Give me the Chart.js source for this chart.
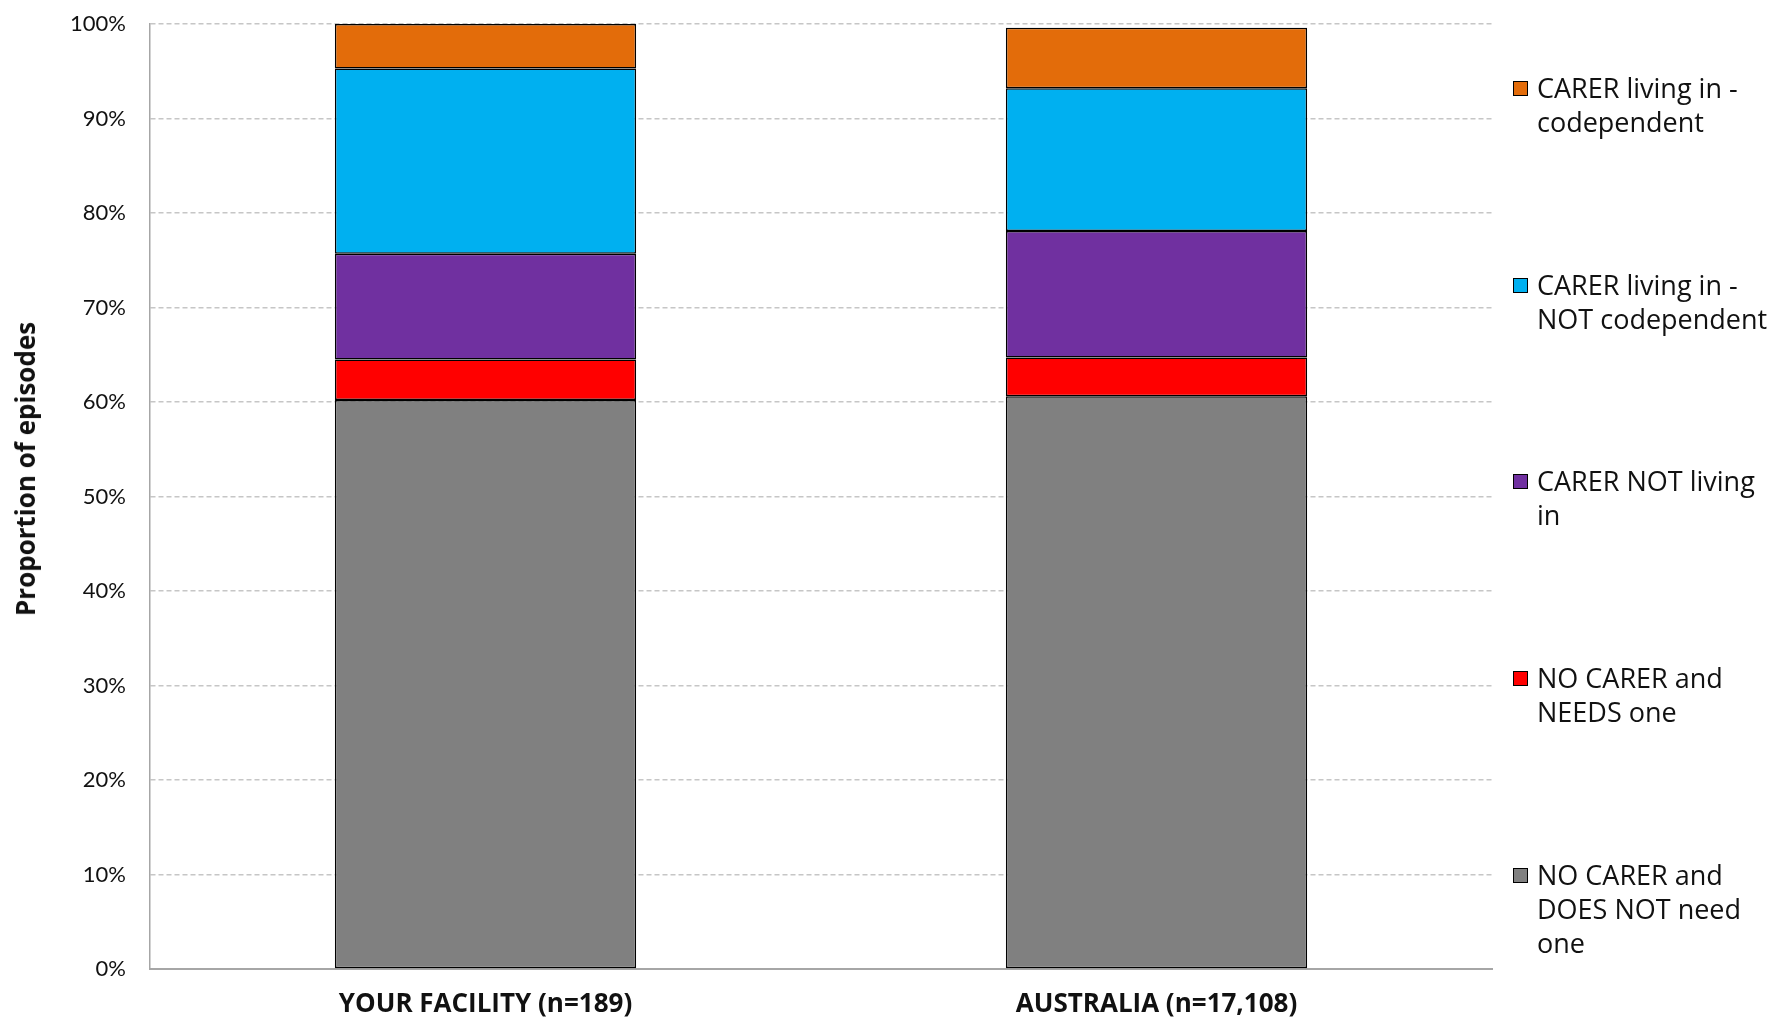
<!DOCTYPE html>
<html lang="en">
<head>
  <meta charset="UTF-8"/>
  <title>Carer status</title>
  <script src="https://cdn.jsdelivr.net/npm/chart.js"></script>
  <style>
    body { margin: 0; background: #fff; font-family: "Open Sans", "DejaVu Sans", sans-serif; }
    .wrap { position: relative; width: 1787px; height: 1024px; }
    #legend { position: absolute; left: 1513px; top: 0; }
    .item { position: absolute; left: 0; width: 274px; font-size: 27px; line-height: 34px; color: #111; padding-left: 24px; white-space: nowrap; }
    .box { position: absolute; left: 0; top: 10px; width: 13px; height: 13px; border: 1.5px solid #000; }
    #ytitle { position: absolute; left: 25px; top: 469px; transform: translate(-50%, -50%) rotate(-90deg);
              font-weight: bold; font-size: 26px; color: #111; white-space: nowrap; }
  </style>
</head>
<body>
  <div class="wrap">
    <canvas id="chart" width="1787" height="1024"></canvas>
    <div id="ytitle">Proportion of episodes</div>
    <div id="legend"></div>
  </div>

  <script>
    // Data
    const categories = ['YOUR FACILITY (n=189)', 'AUSTRALIA (n=17,108)'];
    const seriesNames = [
      'NO CARER and DOES NOT need one',
      'NO CARER and NEEDS one',
      'CARER NOT living in',
      'CARER living in - NOT codependent',
      'CARER living in - codependent'
    ];
    const legendLines = [
      ['NO CARER and', 'DOES NOT need', 'one'],
      ['NO CARER and', 'NEEDS one'],
      ['CARER NOT living', 'in'],
      ['CARER living in -', 'NOT codependent'],
      ['CARER living in -', 'codependent']
    ];
    const noCarerNoNeed  = [60.2, 60.6];
    const noCarerNeeds   = [4.3, 4.1];
    const carerNotLiving = [11.2, 13.4];
    const livingNotCodep = [19.6, 15.1];
    const livingCodep    = [4.7, 6.4];
    const colors = ['#808080', '#ff0000', '#7030a0', '#00b0f0', '#e36c0a'];

    const values = [noCarerNoNeed, noCarerNeeds, carerNotLiving, livingNotCodep, livingCodep];

    const tickFont = 'Lato, "DejaVu Sans", sans-serif';
    const boldFont = '"Open Sans", "DejaVu Sans", sans-serif';

    new Chart(document.getElementById('chart'), {
      type: 'bar',
      data: {
        labels: categories,
        datasets: values.map((v, i) => ({
          label: seriesNames[i],
          data: v,
          backgroundColor: colors[i],
          borderColor: '#000',
          borderWidth: 1.5,
          borderSkipped: false,
          categoryPercentage: 1,
          barPercentage: 0.449
        }))
      },
      options: {
        responsive: false,
        animation: false,
        layout: { padding: { top: 24, right: 295, bottom: 0, left: 0 } },
        plugins: { legend: { display: false }, tooltip: { enabled: false } },
        scales: {
          x: {
            stacked: true,
            grid: { display: false, drawTicks: false },
            border: { color: '#a6a6a6', width: 2 },
            ticks: { padding: 20, color: '#111', font: { family: boldFont, size: 26, weight: 'bold' } },
            afterFit: s => { s.height = 55; }
          },
          y: {
            stacked: true,
            min: 0, max: 100,
            grid: { color: '#c6c6c6', lineWidth: 1.5, drawTicks: false },
            border: { color: '#a6a6a6', width: 1.5, dash: [5, 3] },
            ticks: {
              stepSize: 10, padding: 24, color: '#111',
              font: { family: tickFont, size: 22 },
              callback: v => v + '%'
            },
            afterFit: s => { s.width = 150; s.paddingTop = 0; s.paddingBottom = 0; }
          }
        }
      }
    });

    // HTML legend, reversed to follow the stack
    const legend = document.getElementById('legend');
    for (let k = 0; k < seriesNames.length; k++) {
      const i = seriesNames.length - 1 - k;
      const item = document.createElement('div');
      item.className = 'item';
      item.style.top = (71 + k * 196.7) + 'px';
      item.innerHTML = '<span class="box" style="background:' + colors[i] + '"></span>' +
        legendLines[i].join('<br>');
      legend.appendChild(item);
    }
  </script>
</body>
</html>
